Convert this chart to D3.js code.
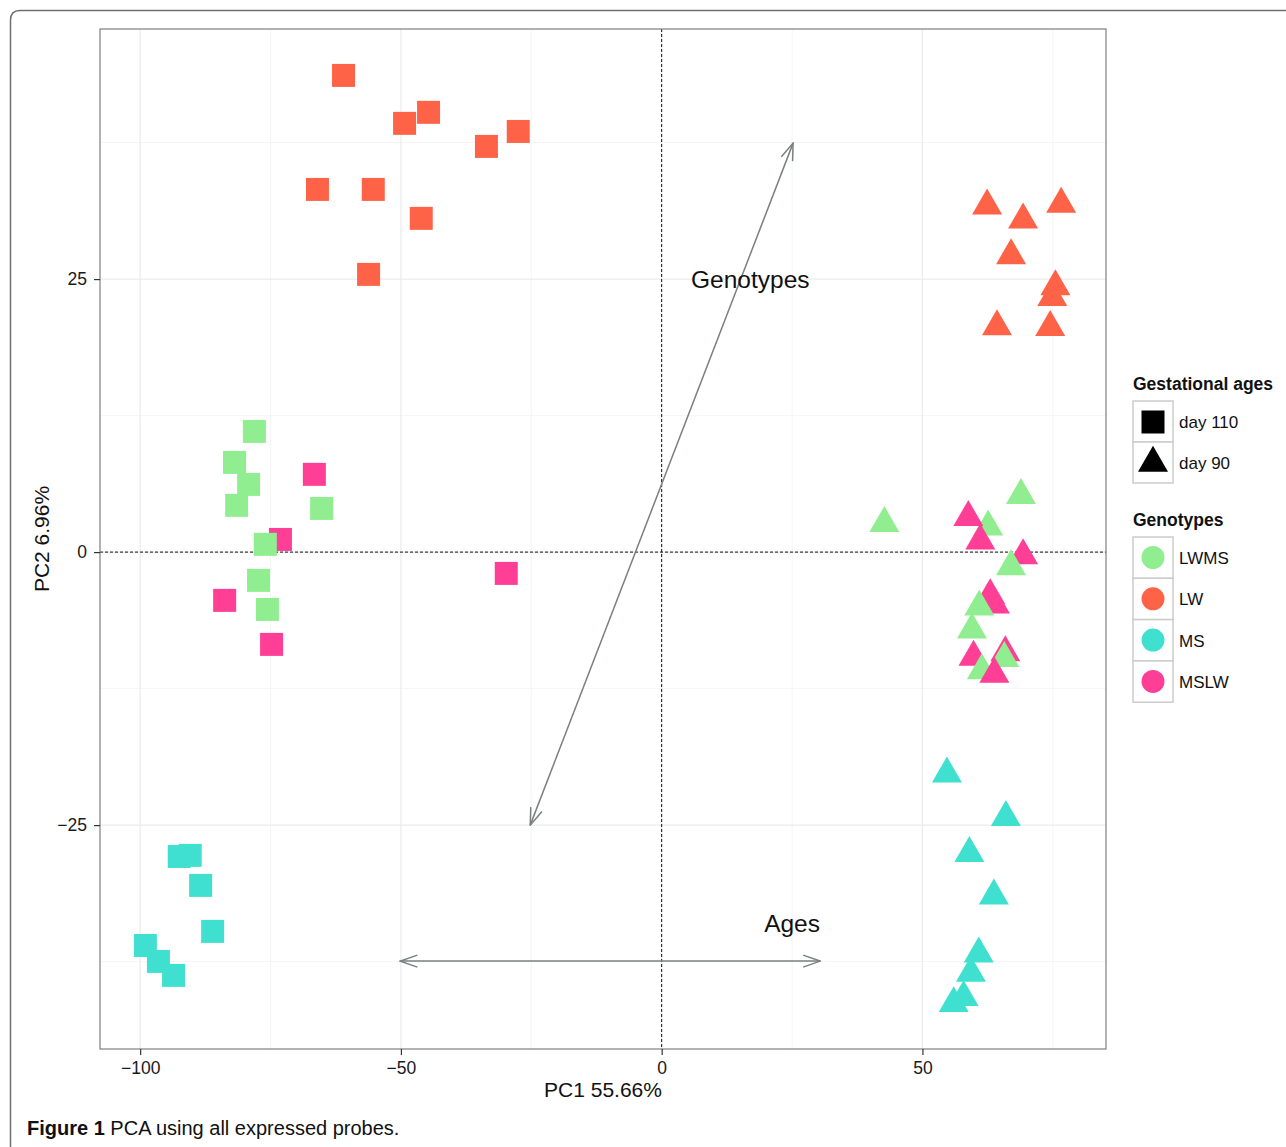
<!DOCTYPE html>
<html>
<head>
<meta charset="utf-8">
<script src="https://cdn.jsdelivr.net/npm/d3@7"></script>
<style>
  body { margin: 0; background: #fff; }
  text { font-family: "Liberation Sans", Arial, sans-serif; }
</style>
</head>
<body>
<div id="chart"></div>
<script>
// PCA scores, one entry per sample, in drawing order
let genotypes = ["LWMS", "LW", "MS", "MSLW"];
let ages = ["day 110", "day 90"];

let pc1 = [
  -61.0, -49.3, -44.7, -33.6, -27.5, -66.0, -55.3, -46.1, -56.2,
  -66.6, -73.1, -83.8, -74.8, -29.8,
  -78.1, -81.9, -79.2, -81.5, -65.2, -76.0, -77.3, -75.6,
  -92.5, -90.4, -88.4, -86.1, -99.0, -96.5, -93.6,
  62.4, 69.3, 76.6, 67.0, 75.5, 74.9, 64.3, 74.5,
  42.7, 68.9, 62.6, 69.3, 59.8, 65.9,
  58.8, 61.1, 67.0, 63.0, 63.9, 60.9, 59.5, 65.7, 61.4, 63.8,
  54.7, 66.0, 59.0, 63.7, 60.8, 59.3, 57.9, 56.0
];
let pc2 = [
  43.65, 39.26, 40.27, 37.15, 38.52, 33.21, 33.21, 30.56, 25.43,
  7.12, 1.16, -4.42, -8.45, -1.95,
  11.05, 8.21, 6.20, 4.28, 4.00, 0.71, -2.59, -5.25,
  -27.87, -27.77, -30.52, -34.73, -36.02, -37.48, -38.76,
  31.71, 30.42, 31.87, 27.16, 24.32, 23.32, 20.66, 20.58,
  2.63, 5.20, 2.32, -0.31, -9.62, -9.21,
  3.18, 1.04, -1.32, -3.97, -4.84, -5.01, -7.11, -9.73, -10.84, -11.17,
  -20.31, -24.28, -27.59, -31.47, -36.79, -38.56, -40.76, -41.33
];
let sampleGenotype = [
  "LW", "LW", "LW", "LW", "LW", "LW", "LW", "LW", "LW",
  "MSLW", "MSLW", "MSLW", "MSLW", "MSLW",
  "LWMS", "LWMS", "LWMS", "LWMS", "LWMS", "LWMS", "LWMS", "LWMS",
  "MS", "MS", "MS", "MS", "MS", "MS", "MS",
  "LW", "LW", "LW", "LW", "LW", "LW", "LW", "LW",
  "LWMS", "LWMS", "LWMS", "MSLW", "MSLW", "MSLW",
  "MSLW", "MSLW", "LWMS", "MSLW", "MSLW", "LWMS", "LWMS", "LWMS", "LWMS", "MSLW",
  "MS", "MS", "MS", "MS", "MS", "MS", "MS", "MS"
];
let sampleAge = pc1.map((v, i) => i < 29 ? "day 110" : "day 90");

let xTicks = [-100, -50, 0, 50];
let yTicks = [-25, 0, 25];
let xMinor = [-75, -25, 25, 75];
let yMinor = [-37.5, -12.5, 12.5, 37.5];

let colours = { "LWMS": "#90EE90", "LW": "#FF6347", "MS": "#40E0D0", "MSLW": "#FF3E96" };

let W = 1286, H = 1147;
let panel = { left: 100, top: 29, right: 1106, bottom: 1049 };

const svg = d3.select("#chart")
              .append("svg")
              .attr("width", W)
              .attr("height", H);

// outer figure frame
svg.append("path")
   .attr("d", "M10.5," + (H + 5) + " L10.5,20 Q10.5,10.5 20,10.5 L" + (W + 5) + ",10.5")
   .attr("fill", "none")
   .attr("stroke", "#6f6f6f")
   .attr("stroke-width", 1.5);

const x = d3.scaleLinear()
            .domain([-107.7, 85.2])
            .range([panel.left, panel.right]);

const y = d3.scaleLinear()
            .domain([-45.5, 47.9])
            .range([panel.bottom, panel.top]);

// grid
let g = svg.append("g");
g.selectAll(".minorx").data(xMinor).enter().append("line")
 .attr("x1", d => x(d)).attr("x2", d => x(d))
 .attr("y1", panel.top).attr("y2", panel.bottom)
 .attr("stroke", "#f5f5f5").attr("stroke-width", 1);
g.selectAll(".minory").data(yMinor).enter().append("line")
 .attr("y1", d => y(d)).attr("y2", d => y(d))
 .attr("x1", panel.left).attr("x2", panel.right)
 .attr("stroke", "#f5f5f5").attr("stroke-width", 1);
g.selectAll(".majorx").data(xTicks).enter().append("line")
 .attr("x1", d => x(d)).attr("x2", d => x(d))
 .attr("y1", panel.top).attr("y2", panel.bottom)
 .attr("stroke", "#ebebeb").attr("stroke-width", 1.2);
g.selectAll(".majory").data(yTicks).enter().append("line")
 .attr("y1", d => y(d)).attr("y2", d => y(d))
 .attr("x1", panel.left).attr("x2", panel.right)
 .attr("stroke", "#ebebeb").attr("stroke-width", 1.2);

// zero lines
svg.append("line")
   .attr("x1", x(0)).attr("x2", x(0))
   .attr("y1", panel.top).attr("y2", panel.bottom)
   .attr("stroke", "#111").attr("stroke-dasharray", "3,2").attr("stroke-width", 1);
svg.append("line")
   .attr("y1", y(0)).attr("y2", y(0))
   .attr("x1", panel.left).attr("x2", panel.right)
   .attr("stroke", "#111").attr("stroke-dasharray", "3,2").attr("stroke-width", 1);

// arrows
svg.append("defs").append("marker")
   .attr("id", "head")
   .attr("viewBox", "0 0 20 20")
   .attr("refX", 19).attr("refY", 10)
   .attr("markerWidth", 20).attr("markerHeight", 20)
   .attr("markerUnits", "userSpaceOnUse")
   .attr("orient", "auto-start-reverse")
   .append("path")
   .attr("d", "M2,4 L19,10 L2,16")
   .attr("fill", "none")
   .attr("stroke", "#7a7f7f")
   .attr("stroke-width", 1.5);

let arrowX = [[-25.2, 25.2], [-50.1, 30.4]];
let arrowY = [[-25, 37.45], [-37.45, -37.45]];
arrowX.forEach((ax, i) => {
  svg.append("line")
     .attr("x1", x(ax[0])).attr("y1", y(arrowY[i][0]))
     .attr("x2", x(ax[1])).attr("y2", y(arrowY[i][1]))
     .attr("stroke", "#7a7f7f").attr("stroke-width", 1.5)
     .attr("marker-start", "url(#head)")
     .attr("marker-end", "url(#head)");
});

svg.append("text").attr("x", x(17)).attr("y", y(25) + 9)
   .attr("text-anchor", "middle").attr("font-size", 24.5).attr("fill", "#111")
   .text("Genotypes");
svg.append("text").attr("x", x(25)).attr("y", y(-34) + 9)
   .attr("text-anchor", "middle").attr("font-size", 24.5).attr("fill", "#111")
   .text("Ages");

// points
const sq = d3.symbol().type(d3.symbolSquare).size(529);
const tri = d3.symbol().type(d3.symbolTriangle).size(390);

svg.selectAll(".pt")
   .data(pc1)
   .enter()
   .append("path")
   .attr("class", "pt")
   .attr("d", (d, i) => sampleAge[i] === "day 110" ? sq() : tri())
   .attr("transform", (d, i) => "translate(" + x(d) + "," + y(pc2[i]) + ")")
   .attr("fill", (d, i) => colours[sampleGenotype[i]]);

// panel border
svg.append("rect")
   .attr("x", panel.left).attr("y", panel.top)
   .attr("width", panel.right - panel.left).attr("height", panel.bottom - panel.top)
   .attr("fill", "none").attr("stroke", "#7f7f7f").attr("stroke-width", 1.2);

// axes
const xAxis = d3.axisBottom(x).tickValues(xTicks).tickSize(6).tickPadding(7)
                .tickFormat(d => d < 0 ? "\u2212" + Math.abs(d) : d);
const yAxis = d3.axisLeft(y).tickValues(yTicks).tickSize(6).tickPadding(7)
                .tickFormat(d => d < 0 ? "\u2212" + Math.abs(d) : d);

let xg = svg.append("g").attr("transform", "translate(0," + panel.bottom + ")").call(xAxis);
let yg = svg.append("g").attr("transform", "translate(" + panel.left + ",0)").call(yAxis);
[xg, yg].forEach(a => {
  a.select(".domain").remove();
  a.selectAll(".tick line").attr("stroke", "#333").attr("stroke-width", 1.2);
  a.selectAll(".tick text").attr("font-size", 17.5).attr("fill", "#1a1a1a")
   .attr("font-family", "'Liberation Sans', Arial, sans-serif");
});

svg.append("text")
   .attr("x", (panel.left + panel.right) / 2).attr("y", 1097)
   .attr("text-anchor", "middle").attr("font-size", 21).attr("fill", "#111")
   .text("PC1 55.66%");
svg.append("text")
   .attr("transform", "translate(49," + ((panel.top + panel.bottom) / 2) + ") rotate(-90)")
   .attr("text-anchor", "middle").attr("font-size", 21).attr("fill", "#111")
   .text("PC2 6.96%");

// legends
let lx = 1133;
svg.append("text").attr("x", lx).attr("y", 390)
   .attr("font-size", 17.5).attr("font-weight", "bold").attr("fill", "#111")
   .text("Gestational ages");
ages.forEach((a, i) => {
  let ky = 401 + i * 41;
  svg.append("rect").attr("x", lx).attr("y", ky).attr("width", 40).attr("height", 41)
     .attr("fill", "#fff").attr("stroke", "#cccccc").attr("stroke-width", 1.5);
  svg.append("path").attr("d", i === 0 ? sq() : tri())
     .attr("transform", "translate(" + (lx + 20) + "," + (ky + 21) + ")")
     .attr("fill", "#000");
  svg.append("text").attr("x", lx + 46).attr("y", ky + 27)
     .attr("font-size", 17).attr("fill", "#111").text(a);
});

svg.append("text").attr("x", lx).attr("y", 526)
   .attr("font-size", 17.5).attr("font-weight", "bold").attr("fill", "#111")
   .text("Genotypes");
genotypes.forEach((gt, i) => {
  let ky = 537 + i * 41.3;
  svg.append("rect").attr("x", lx).attr("y", ky).attr("width", 40).attr("height", 41.3)
     .attr("fill", "#fff").attr("stroke", "#cccccc").attr("stroke-width", 1.5);
  svg.append("circle").attr("cx", lx + 20).attr("cy", ky + 20.5).attr("r", 11.5)
     .attr("fill", colours[gt]);
  svg.append("text").attr("x", lx + 46).attr("y", ky + 27)
     .attr("font-size", 17).attr("fill", "#111").text(gt);
});

// caption
let cap = svg.append("text").attr("x", 27).attr("y", 1135)
             .attr("font-size", 20).attr("fill", "#111")
             .attr("font-family", "'Liberation Sans Narrow', 'Open Sans', sans-serif");
cap.append("tspan").attr("font-weight", "bold").text("Figure 1");
cap.append("tspan").text(" PCA using all expressed probes.");
</script>
</body>
</html>
